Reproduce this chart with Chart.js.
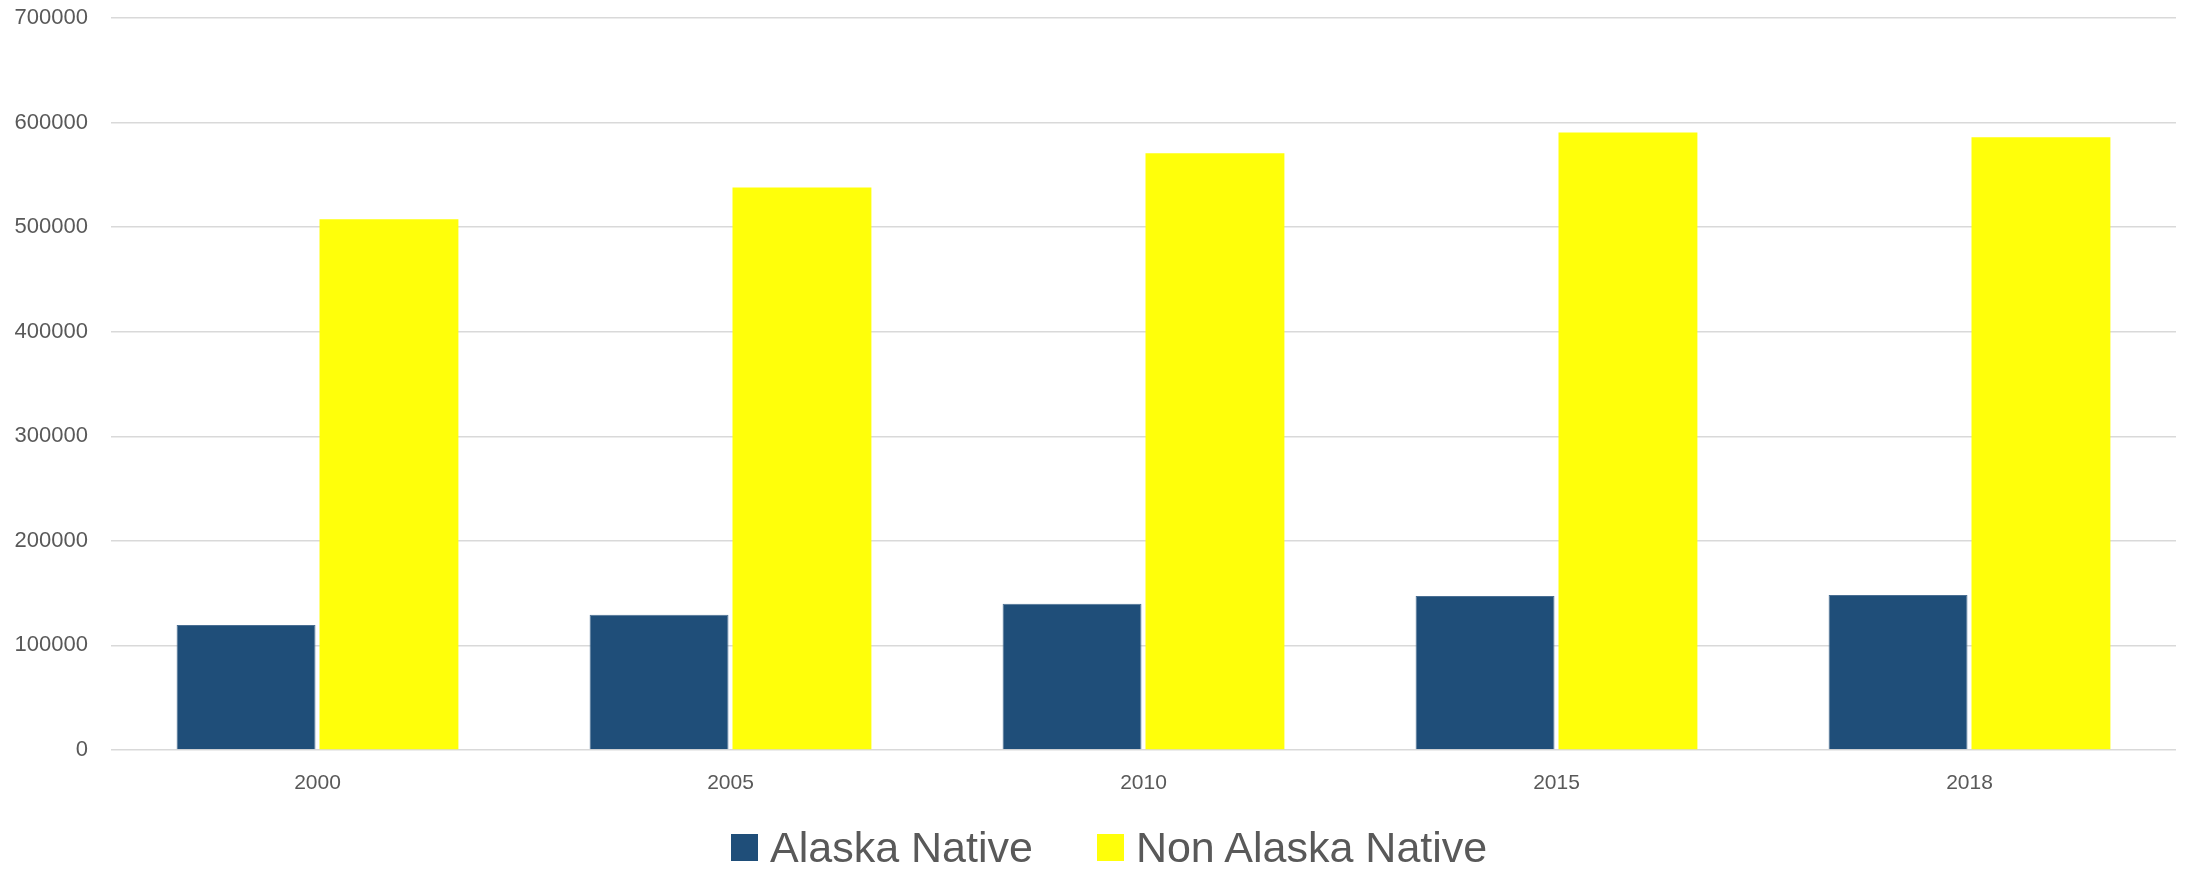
<!DOCTYPE html>
<html>
<head>
<meta charset="utf-8">
<script src="https://cdn.jsdelivr.net/npm/chart.js@4.4.1/dist/chart.umd.min.js"></script>
<style>
  html, body { margin: 0; padding: 0; background: #ffffff; }
  #wrap { width: 2188px; height: 869px; position: relative; }
  #legend {
    position: absolute; left: 731px; top: 822px; height: 50px;
    display: flex; align-items: center;
    font-family: "Liberation Sans", Arial, sans-serif; font-size: 43px; color: #595959;
  }
  #legend .item { display: flex; align-items: center; margin-right: 64px; }
  #legend .box { width: 27px; height: 27px; margin-right: 12px; }
</style>
</head>
<body>
<div id="wrap"><canvas id="myChart"></canvas><div id="legend"></div></div>
<script>
// years on the x axis
var years = ['2000', '2005', '2010', '2015', '2018'];
// population values
var alaskaNative = [119500, 129300, 139900, 147200, 148200];
var nonAlaskaNative = [507600, 537900, 570700, 590500, 586000];

var textColor = '#595959';
var fontName = '"Liberation Sans", Arial, sans-serif';

var ctx = document.getElementById('myChart').getContext('2d');
var myChart = new Chart(ctx, {
    type: 'bar',
    data: {
        labels: years,
        datasets: [{
            label: 'Alaska Native',
            data: alaskaNative,
            backgroundColor: '#1F4E79',
            borderColor: '#4a6f93',
            borderWidth: { top: 1, left: 1, right: 1, bottom: 0 },
            barPercentage: 0.972,
            categoryPercentage: 0.692
        }, {
            label: 'Non Alaska Native',
            data: nonAlaskaNative,
            backgroundColor: '#FFFF0A',
            borderWidth: 0,
            barPercentage: 0.972,
            categoryPercentage: 0.692
        }]
    },
    options: {
        responsive: true,
        maintainAspectRatio: false,
        animation: false,
        layout: {
            padding: { top: 0, left: 0, right: 12, bottom: 73 }
        },
        plugins: {
            tooltip: { enabled: false },
            legend: { display: false }
        },
        scales: {
            x: {
                grid: { display: false, drawTicks: false },
                border: { display: false },
                ticks: {
                    color: textColor,
                    padding: 21,
                    font: { family: fontName, size: 21 }
                },
                afterFit: function (scale) {
                    scale.height = 46;
                }
            },
            y: {
                min: 0,
                max: 700000,
                border: { display: false },
                grid: {
                    color: '#d9d9d9',
                    lineWidth: 1.5,
                    drawTicks: false
                },
                ticks: {
                    stepSize: 100000,
                    color: textColor,
                    padding: 23,
                    font: { family: fontName, size: 22 },
                    callback: function (value) {
                        return String(value);
                    }
                },
                afterFit: function (scale) {
                    scale.width = 111;
                    scale.paddingTop = 18;
                }
            }
        }
    }
});

// html legend built from the chart's own legend items
var legendDiv = document.getElementById('legend');
Chart.defaults.plugins.legend.labels.generateLabels(myChart).forEach(function (item) {
    var el = document.createElement('div');
    el.className = 'item';
    var box = document.createElement('span');
    box.className = 'box';
    box.style.background = item.fillStyle;
    el.appendChild(box);
    el.appendChild(document.createTextNode(item.text));
    legendDiv.appendChild(el);
});
</script>
</body>
</html>
